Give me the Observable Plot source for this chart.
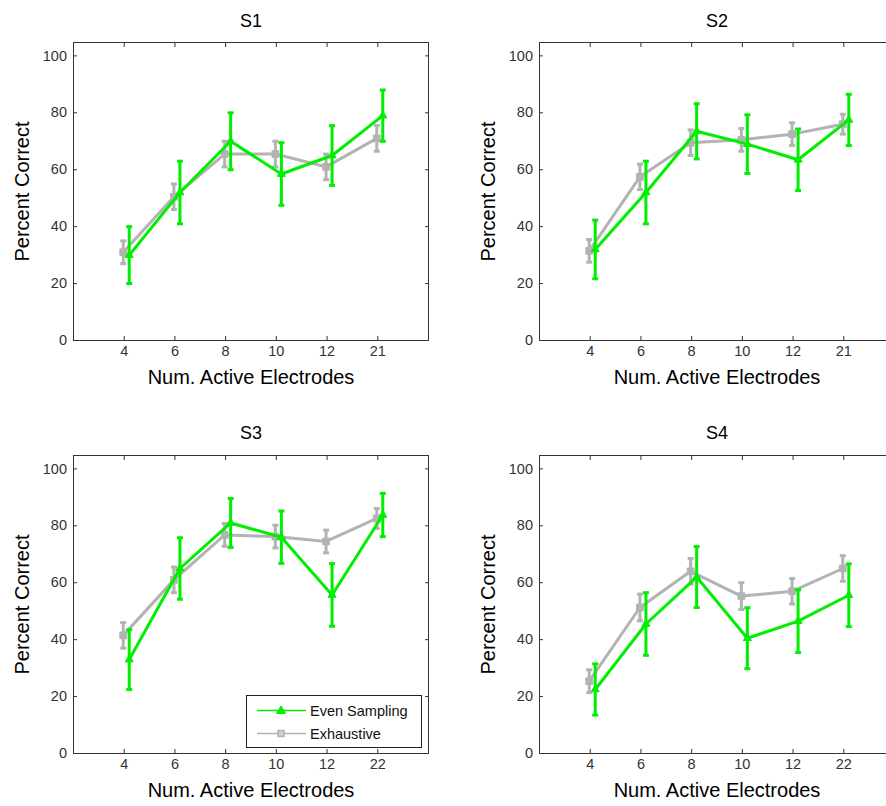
<!DOCTYPE html>
<html>
<head>
<meta charset="utf-8">
<script src="https://cdn.jsdelivr.net/npm/d3@7"></script>
<script src="https://cdn.jsdelivr.net/npm/@observablehq/plot@0.6"></script>
<style>
  html, body { margin: 0; padding: 0; background: #fff; overflow: hidden; }
  #wrap { position: relative; width: 886px; height: 806px; overflow: hidden; background: #fff; }
  .panel { position: absolute; }
  .panel svg { display: block; overflow: visible; max-width: none !important; }
  #legend { position: absolute; left: 246px; top: 695px; width: 174px; height: 51px; border: 1px solid #222; background: #fff; font-family: Arial, "Liberation Sans", sans-serif; font-size: 14.5px; color: #111; }
</style>
</head>
<body>
<div id="wrap"></div>
<script>
// ---- data ----
const yTicks = [0, 20, 40, 60, 80, 100];

const s1Labels = ["4", "6", "8", "10", "12", "21"];
const s1Even = [30, 52, 70, 58.5, 65, 79];
const s1EvenErr = [10, 11, 10, 11, 10.5, 9];
const s1Exh = [31, 50.5, 65.5, 65.5, 61, 71];
const s1ExhErr = [4, 4.5, 4.5, 4.5, 4.5, 4.5];

const s2Labels = ["4", "6", "8", "10", "12", "21"];
const s2Even = [32, 52, 73.5, 69, 63.5, 77.5];
const s2EvenErr = [10.3, 11, 9.7, 10.3, 10.8, 9];
const s2Exh = [31.5, 57.5, 69.5, 70.5, 72.5, 76];
const s2ExhErr = [4, 4.5, 4.5, 4, 4, 3.5];

const s3Labels = ["4", "6", "8", "10", "12", "22"];
const s3Even = [33, 65, 81, 76, 55.7, 83.8];
const s3EvenErr = [10.5, 10.8, 8.6, 9.2, 11, 7.6];
const s3Exh = [41.5, 61, 76.8, 76.2, 74.5, 82.6];
const s3ExhErr = [4.5, 4.5, 4, 4, 4, 3.5];

const s4Labels = ["4", "6", "8", "10", "12", "22"];
const s4Even = [22.5, 45.5, 62, 40.5, 46.5, 55.6];
const s4EvenErr = [9, 11, 10.7, 10.7, 11, 11];
const s4Exh = [25.4, 51.3, 64, 55.3, 57, 65];
const s4ExhErr = [4, 4.7, 4.5, 4.7, 4.5, 4.5];

const seriesNames = ["Even Sampling", "Exhaustive"];
const xTitle = "Num. Active Electrodes";
const yTitle = "Percent Correct";

// ---- styles ----
const GREEN = "#00ee00";
const GRAY = "#b3b3b3";
const FONT = 'Arial, "Liberation Sans", sans-serif';

const cap = { draw(ctx) { ctx.moveTo(-3, 0); ctx.lineTo(3, 0); } };

const panels = [
  {title: "S1", labels: s1Labels, even: s1Even, evenErr: s1EvenErr, exh: s1Exh, exhErr: s1ExhErr, left: 0, top: 0, bottomRow: false},
  {title: "S2", labels: s2Labels, even: s2Even, evenErr: s2EvenErr, exh: s2Exh, exhErr: s2ExhErr, left: 443, top: 0, bottomRow: false},
  {title: "S3", labels: s3Labels, even: s3Even, evenErr: s3EvenErr, exh: s3Exh, exhErr: s3ExhErr, left: 0, top: 400, bottomRow: true},
  {title: "S4", labels: s4Labels, even: s4Even, evenErr: s4EvenErr, exh: s4Exh, exhErr: s4ExhErr, left: 443, top: 400, bottomRow: true}
];

const wrap = document.getElementById("wrap");

function seriesMarks(rows, key, errKey, color, symbol, r, dx) {
  return [
    Plot.line(rows, {x: "i", y: key, stroke: color, strokeWidth: 3, dx}),
    Plot.ruleX(rows, {x: "i", y1: d => d[key] - d[errKey], y2: d => d[key] + d[errKey], stroke: color, strokeWidth: 3, dx}),
    Plot.dot(rows, {x: "i", y: d => d[key] - d[errKey], symbol: cap, fill: "none", stroke: color, strokeWidth: 3, dx}),
    Plot.dot(rows, {x: "i", y: d => d[key] + d[errKey], symbol: cap, fill: "none", stroke: color, strokeWidth: 3, dx}),
    Plot.dot(rows, {x: "i", y: key, symbol, r, fill: color, stroke: color, strokeWidth: 1, dx})
  ];
}

for (const p of panels) {
  const rows = p.labels.map((l, k) => ({i: k + 1, label: l, even: p.even[k], evenErr: p.evenErr[k], exh: p.exh[k], exhErr: p.exhErr[k]}));
  const isRight = p.left > 0;
  const mTop = p.bottomRow ? 55 : 42;
  const height = p.bottomRow ? 406 : 400;
  const mBottom = p.bottomRow ? 53 : 60;
  const mLeft = isRight ? 96 : 73;
  const width = mLeft + 355;
  const chart = Plot.plot({
    width, height,
    marginLeft: mLeft, marginRight: 0, marginTop: mTop, marginBottom: mBottom,
    style: {fontFamily: FONT, fontSize: "14.5px", color: "#333", background: "transparent", overflow: "visible"},
    x: {domain: [0, 7]},
    y: {domain: [0, 104.7]},
    marks: [
      Plot.frame({stroke: "#333", strokeWidth: 1}),
      Plot.axisY(yTicks, {anchor: "left", tickSize: -4, tickPadding: 10.5, label: null}),
      Plot.axisY(yTicks, {anchor: "right", tickSize: -4, tickFormat: () => "", label: null}),
      Plot.axisX(rows.map(d => d.i), {anchor: "bottom", tickSize: -4, tickPadding: 9, tickFormat: i => p.labels[i - 1], label: null}),
      Plot.axisX(rows.map(d => d.i), {anchor: "top", tickSize: -4, tickFormat: () => "", label: null}),
      ...seriesMarks(rows, "exh", "exhErr", GRAY, "square", 3.8, -1),
      ...seriesMarks(rows, "even", "evenErr", GREEN, "triangle", 3, 5),
      Plot.text([p.title], {frameAnchor: "top", dy: p.bottomRow ? -22 : -21, lineAnchor: "middle", textAnchor: "middle", fontSize: 18, fill: "#000"}),
      Plot.text([xTitle], {frameAnchor: "bottom", dy: 37.5, lineAnchor: "middle", textAnchor: "middle", fontSize: 20, fill: "#000"}),
      Plot.text([yTitle], {frameAnchor: "left", dx: -51, rotate: -90, lineAnchor: "middle", textAnchor: "middle", fontSize: 20, fill: "#000"})
    ]
  });
  const div = document.createElement("div");
  div.className = "panel";
  div.style.left = p.left + "px";
  div.style.top = p.top + "px";
  div.style.width = width + "px";
  div.style.height = height + "px";
  div.appendChild(chart);
  wrap.appendChild(div);
}

// legend (inside S3)
const legend = document.createElement("div");
legend.id = "legend";
legend.innerHTML = `
<svg width="174" height="51" style="position:absolute;left:0;top:0">
  <line x1="10" x2="59" y1="14.5" y2="14.5" stroke="${GREEN}" stroke-width="1.5"/>
  <path d="M34,10 L38.5,17.5 L29.5,17.5 Z" fill="${GREEN}" stroke="${GREEN}" stroke-width="1"/>
  <line x1="10" x2="59" y1="37.5" y2="37.5" stroke="${GRAY}" stroke-width="1.5"/>
  <rect x="31" y="34.5" width="6" height="6" fill="#d0d0d0" stroke="${GRAY}" stroke-width="1.5"/>
  <text x="63" y="14.5" dy="0.35em" font-family='${FONT}' font-size="14.5" fill="#111">${seriesNames[0]}</text>
  <text x="63" y="37.5" dy="0.35em" font-family='${FONT}' font-size="14.5" fill="#111">${seriesNames[1]}</text>
</svg>`;
wrap.appendChild(legend);
</script>
</body>
</html>
